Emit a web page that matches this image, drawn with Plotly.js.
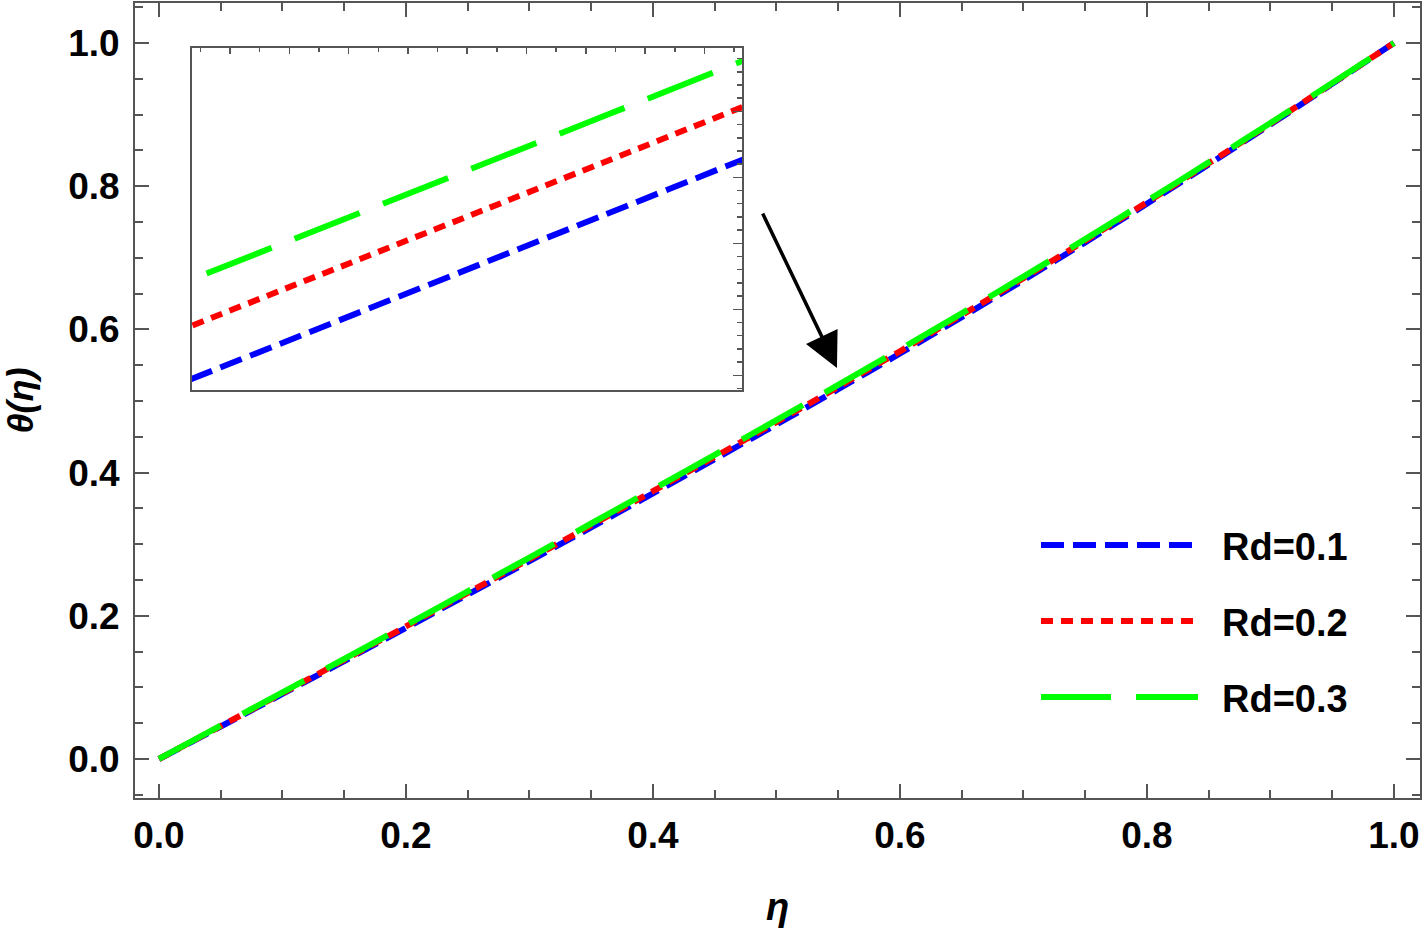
<!DOCTYPE html>
<html>
<head>
<meta charset="utf-8">
<script src="https://cdn.plot.ly/plotly-3.0.1.min.js"></script>
<style>html,body{margin:0;padding:0;background:#fff;}#chart{width:1425px;height:930px;}</style>
</head>
<body>
<div id="chart"></div>
<script>
// ---- data ----
const eta = [0, 0.05, 0.10, 0.15, 0.20, 0.25, 0.30, 0.35, 0.40, 0.45, 0.50, 0.55, 0.60, 0.65, 0.70, 0.75, 0.80, 0.85, 0.90, 0.95, 1.00];
const thetaRd01 = [0, 0.0454, 0.0908, 0.1368, 0.1831, 0.2296, 0.2764, 0.3235, 0.3709, 0.4188, 0.4672, 0.5164, 0.5663, 0.6171, 0.6688, 0.7216, 0.7755, 0.8304, 0.8862, 0.9430, 1.0];
const thetaRd02 = [0, 0.0460, 0.0920, 0.1384, 0.1851, 0.2320, 0.2791, 0.3264, 0.3740, 0.4220, 0.4705, 0.5196, 0.5694, 0.6200, 0.6715, 0.7240, 0.7775, 0.8320, 0.8874, 0.9436, 1.0];
const thetaRd03 = [0, 0.0466, 0.0930, 0.1398, 0.1869, 0.2341, 0.2814, 0.3289, 0.3767, 0.4248, 0.4733, 0.5224, 0.5721, 0.6225, 0.6738, 0.7261, 0.7793, 0.8334, 0.8884, 0.9442, 1.0];
const seriesNames = ["Rd=0.1", "Rd=0.2", "Rd=0.3"];
const xTickVals = [0, 0.2, 0.4, 0.6, 0.8, 1.0];
const xTickText = ["0.0", "0.2", "0.4", "0.6", "0.8", "1.0"];
const yTickVals = [0, 0.2, 0.4, 0.6, 0.8, 1.0];
const yTickText = ["0.0", "0.2", "0.4", "0.6", "0.8", "1.0"];

// ---- styles ----
const seriesData = [thetaRd01, thetaRd02, thetaRd03];
const colors = ["#0000FF", "#FF0000", "#00FF00"];
const dashes = ["23px,9px", "12px,8px", "70px,25px"];
const LW = 6;
const FONT = "Liberation Sans, Arial, Helvetica, sans-serif";
const AX = "#555555";

// plot frame in pixels
const W = 1425, H = 930;
const L = 135, R = 1420, T = 3, B = 798;
const px2x = p => (p - L) / (R - L);
const py2y = p => (B - p) / (B - T);

const traces = [];
seriesData.forEach((yv, i) => {
  traces.push({x: eta, y: yv, type: "scatter", mode: "lines", name: seriesNames[i],
    line: {color: colors[i], width: LW, dash: dashes[i], shape: "spline", smoothing: 0.6},
    showlegend: false, hoverinfo: "skip", xaxis: "x", yaxis: "y"});
});
seriesData.forEach((yv, i) => {
  traces.push({x: eta, y: yv, type: "scatter", mode: "lines", name: seriesNames[i],
    line: {color: colors[i], width: LW, dash: dashes[i], shape: "spline", smoothing: 0.6},
    showlegend: false, hoverinfo: "skip", xaxis: "x2", yaxis: "y2"});
});

const tickFont = {family: FONT, size: 37, color: "#000", weight: "bold"};

// manual legend (long line samples)
const legY = [545, 621, 697];
const shapes = [];
const annotations = [];
seriesNames.forEach((n, i) => {
  shapes.push({type: "line", xref: "paper", yref: "paper",
    x0: px2x(1041), x1: px2x(i === 2 ? 1198 : 1193), y0: py2y(legY[i]), y1: py2y(legY[i]),
    line: {color: colors[i], width: LW, dash: dashes[i]}});
  annotations.push({xref: "paper", yref: "paper", x: px2x(1220), y: py2y(legY[i] + 2),
    xanchor: "left", yanchor: "middle", showarrow: false, text: n,
    font: {family: FONT, size: 38, color: "#000", weight: "bold"}});
});
// arrow
annotations.push({xref: "x", yref: "y", x: 0.549, y: 0.546, ax: -75, ay: -156,
  axref: "pixel", ayref: "pixel", text: "", showarrow: true,
  arrowhead: 2, arrowsize: 2, arrowwidth: 3.5, arrowcolor: "#000"});

const layout = {
  width: W, height: H,
  margin: {l: L, r: W - R, t: T, b: H - B},
  paper_bgcolor: "#fff", plot_bgcolor: "#fff",
  showlegend: false,
  xaxis: {
    range: [-0.0194, 1.0211], domain: [0, 1], anchor: "y",
    tickvals: xTickVals, ticktext: xTickText, ticks: "inside", ticklen: 14, tickwidth: 2, tickcolor: AX,
    minor: {dtick: 0.05, tick0: 0, ticks: "inside", ticklen: 8, tickwidth: 2, tickcolor: AX},
    showline: true, linecolor: AX, linewidth: 2, mirror: "ticks",
    showgrid: false, zeroline: false, tickfont: tickFont, ticklabelstandoff: 4,
    title: {text: "η", font: {family: FONT, size: 38, color: "#000", weight: "bold", style: "italic"}, standoff: 38}
  },
  yaxis: {
    range: [-0.0545, 1.0559], domain: [0, 1], anchor: "x",
    tickvals: yTickVals, ticktext: yTickText, ticks: "inside", ticklen: 14, tickwidth: 2, tickcolor: AX,
    minor: {dtick: 0.05, tick0: 0, ticks: "inside", ticklen: 8, tickwidth: 2, tickcolor: AX},
    showline: true, linecolor: AX, linewidth: 2, mirror: "ticks",
    showgrid: false, zeroline: false, tickfont: tickFont, ticklabelstandoff: 6,
    title: {text: "θ(η)", font: {family: FONT, size: 36, color: "#000", weight: "bold", style: "italic"}, standoff: 26}
  },
  xaxis2: {
    range: [0.54, 0.55341], domain: [px2x(192), px2x(742)], anchor: "y2", side: "top",
    tick0: 0.540926, dtick: 0.001446, ticks: "inside", ticklen: 6, tickwidth: 1.5, tickcolor: AX,
    minor: {tick0: 0.540926, dtick: 0.000723, ticks: "inside", ticklen: 4, tickwidth: 1.5, tickcolor: AX},
    showticklabels: false, showline: true, linecolor: AX, linewidth: 2, mirror: true,
    showgrid: false, zeroline: false
  },
  yaxis2: {
    range: [0.50584, 0.52657], domain: [py2y(390), py2y(48)], anchor: "x2", side: "right",
    tick0: 0.50673, dtick: 0.004, ticks: "inside", ticklen: 9, tickwidth: 1.5, tickcolor: AX,
    minor: {tick0: 0.50673, dtick: 0.0008, ticks: "inside", ticklen: 5, tickwidth: 1.5, tickcolor: AX},
    showticklabels: false, showline: true, linecolor: AX, linewidth: 2, mirror: true,
    showgrid: false, zeroline: false
  },
  shapes: shapes,
  annotations: annotations
};

Plotly.newPlot("chart", traces, layout, {displayModeBar: false, staticPlot: true});
</script>
</body>
</html>
